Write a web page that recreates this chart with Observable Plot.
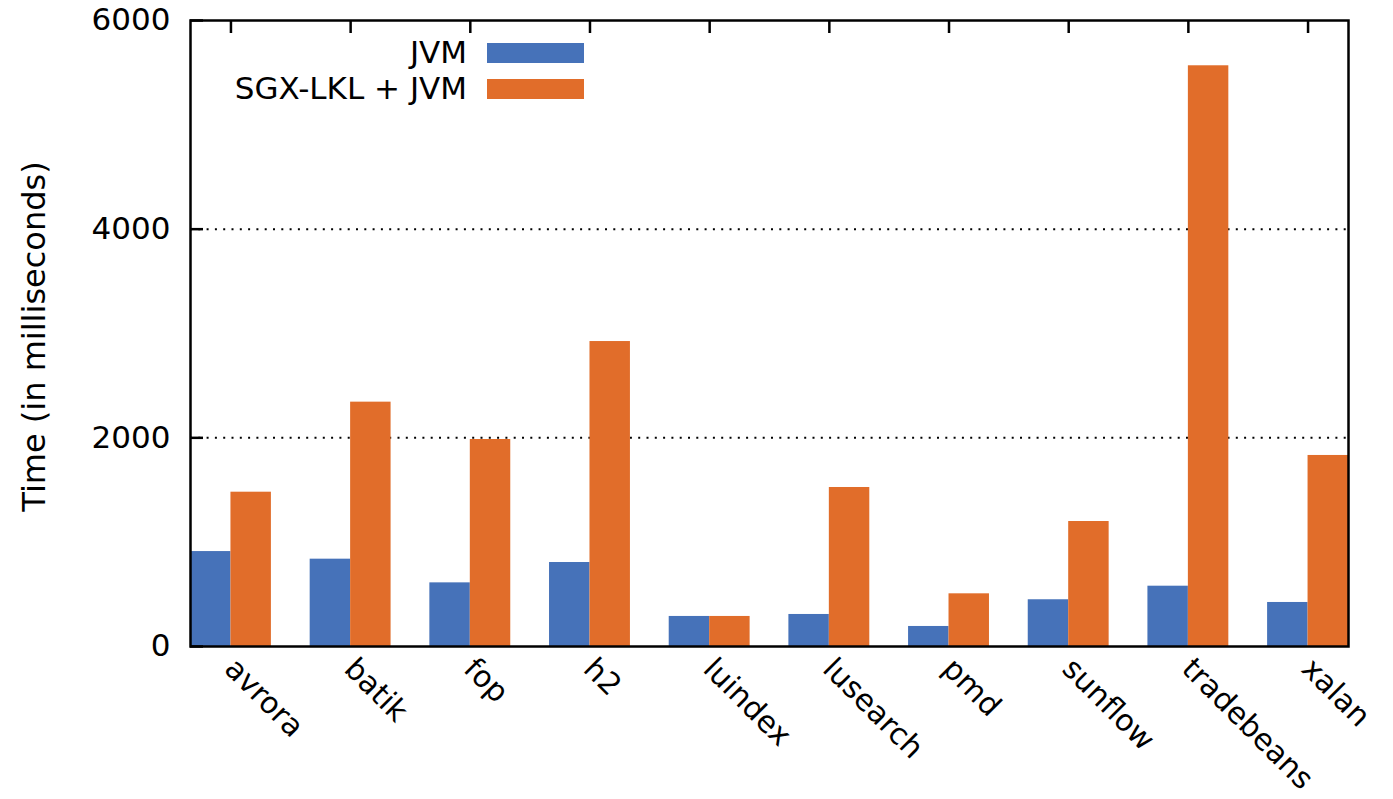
<!DOCTYPE html>
<html><head><meta charset="utf-8">
<script src="https://cdn.jsdelivr.net/npm/d3@7"></script>
<script src="https://cdn.jsdelivr.net/npm/@observablehq/plot@0.6"></script>
<style>
body{margin:0;background:#fff;}
#wrap{position:relative;width:1393px;height:799px;font-family:"DejaVu Sans",sans-serif;}
.lg-text{position:absolute;font-size:31px;color:#000;text-align:right;width:300px;line-height:31px;}
.lg-sw{position:absolute;width:97px;height:20px;}
</style></head><body><div id="wrap"></div>
<script>
const categories = ["avrora","batik","fop","h2","luindex","lusearch","pmd","sunflow","tradebeans","xalan"];
const jvm = [910, 837, 610, 805, 288, 307, 192, 448, 578, 422];
const sgx = [1479, 2342, 1984, 2923, 288, 1524, 505, 1198, 5566, 1831];
const seriesNames = ["JVM", "SGX-LKL + JVM"];
const colors = ["#4672b9", "#e16d2a"];
const yTicks = [0, 2000, 4000, 6000];
const gridValues = [2000, 4000];

const W = 1393, H = 799, mL = 190, mR = 45, mT = 20, mB = 153;
const padIn = 0.324;
const step = (W - mL - mR) / (categories.length - padIn);
const half = step * (1 - padIn) / 2;

const rowsJ = categories.map((c, i) => ({cat: c, v: jvm[i]}));
const rowsS = categories.map((c, i) => ({cat: c, v: sgx[i]}));

const plot = Plot.plot({
  width: W, height: H,
  marginLeft: mL, marginRight: mR, marginTop: mT, marginBottom: mB,
  style: {fontFamily: "DejaVu Sans, sans-serif", fontSize: "31px", color: "#000", background: "#fff"},
  x: {type: "band", domain: categories, paddingInner: padIn, paddingOuter: 0, round: false, axis: null},
  y: {domain: [0, 6000], axis: null},
  marks: [
    Plot.ruleY(gridValues, {stroke: "#000", strokeWidth: 2, strokeDasharray: "2,6.3"}),
    Plot.barY(rowsJ, {x: "cat", y: "v", fill: colors[0], insetRight: half}),
    Plot.barY(rowsS, {x: "cat", y: "v", fill: colors[1], insetLeft: half}),
    Plot.axisY({ticks: yTicks, tickSize: 13, dx: 13, strokeWidth: 2.5, tickFormat: () => "", label: null}),
    Plot.axisY({ticks: yTicks, tickSize: 0, tickPadding: 20, fontSize: 31, label: null, tickFormat: d => String(d)}),
    Plot.axisX({anchor: "top", tickSize: 12, dy: 12, strokeWidth: 2.5, tickFormat: () => "", label: null}),
    Plot.text(categories, {x: d => d, frameAnchor: "bottom", rotate: 45, textAnchor: "start", lineAnchor: "bottom", dx: -8, dy: 24, fontSize: 30}),
    Plot.text(["Time (in milliseconds)"], {frameAnchor: "left", textAnchor: "middle", lineAnchor: "middle", dx: -156, dy: 3, rotate: -90, fontSize: 32}),
    Plot.frame({stroke: "#000", strokeWidth: 2.5})
  ]
});
const wrap = document.getElementById("wrap");
wrap.appendChild(plot);

const lgY = [43, 79];
seriesNames.forEach((name, i) => {
  const t = document.createElement("div");
  t.className = "lg-text";
  t.textContent = name;
  t.style.left = (467 - 300) + "px";
  t.style.top = (lgY[i] + 10 - 16) + "px";
  wrap.appendChild(t);
  const s = document.createElement("div");
  s.className = "lg-sw";
  s.style.left = "487px";
  s.style.top = lgY[i] + "px";
  s.style.background = colors[i];
  wrap.appendChild(s);
});
</script></body></html>
